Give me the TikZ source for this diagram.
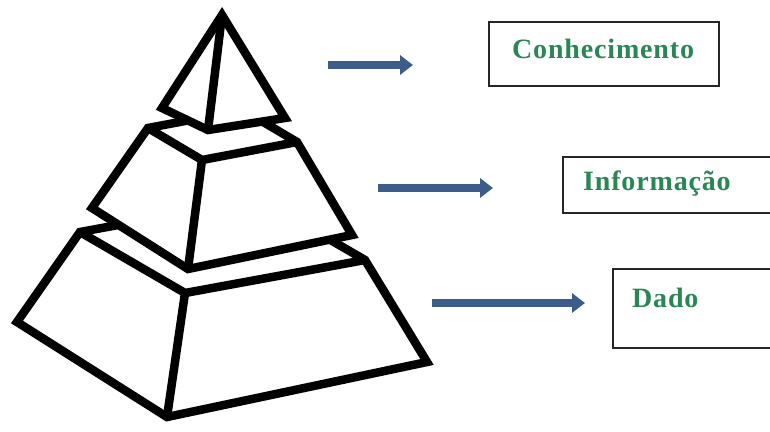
\documentclass[tikz,border=0pt]{standalone}
\usepackage{fontspec}
\setmainfont{Liberation Serif}
\newfontfamily\lblfont{Liberation Serif}[LetterSpace=3]
\usetikzlibrary{arrows.meta}
\definecolor{arrowblue}{RGB}{60,92,138}
\definecolor{labelgreen}{RGB}{40,135,85}
\begin{document}
\begin{tikzpicture}[x=1pt,y=-1pt,
  face/.style={draw=black,fill=white,line width=8.5pt,line join=miter,miter limit=4},
  edgeline/.style={draw=black,line width=8.5pt,line join=miter},
  levelbox/.style={draw=black!85,line width=1.8pt,fill=white,anchor=north west,inner sep=0pt},
  lvltext/.style={text=labelgreen,font=\lblfont\fontsize{28}{30}\selectfont\bfseries,anchor=base west,inner sep=0pt},
  bluearrow/.style={draw=arrowblue,line width=8.5pt,-{Triangle[length=13pt,width=19pt]}}]
\useasboundingbox (0,0) rectangle (770,431);
\clip (0,0) rectangle (770,431);

% ---------- bottom layer ----------
\coordinate (btl) at (80,232);
\coordinate (bbk) at (260,199);
\coordinate (btr) at (365,260);
\coordinate (bbr) at (427,362);
\coordinate (bbf) at (167,417);
\coordinate (bbl) at (17,322);
\coordinate (btf) at (185,293);
\path[face] (btl) -- (bbk) -- (btr) -- (bbr) -- (bbf) -- (bbl) -- cycle;
\draw[edgeline] (btl) -- (btf) -- (btr);
\draw[edgeline] (btf) -- (bbf);

% ---------- middle layer ----------
\coordinate (mtl) at (148,128);
\coordinate (mbk) at (243,110);
\coordinate (mtr) at (297,142);
\coordinate (mbr) at (352,235);
\coordinate (mbf) at (188,269);
\coordinate (mbl) at (92,208);
\coordinate (mtf) at (202,160);
\path[face] (mtl) -- (mbk) -- (mtr) -- (mbr) -- (mbf) -- (mbl) -- cycle;
\draw[edgeline] (mtl) -- (mtf) -- (mtr);
\draw[edgeline] (mtf) -- (mbf);

% ---------- top pyramid ----------
\coordinate (apex) at (222,15);
\coordinate (tl) at (162,108);
\coordinate (tf) at (208,130);
\coordinate (tr) at (285,118);
\path[face] (apex) -- (tl) -- (tf) -- (tr) -- cycle;
\draw[edgeline] (apex) -- (tf);

% ---------- arrows ----------
\coordinate (a1s) at (328,65);  \coordinate (a1e) at (413,65);
\coordinate (a2s) at (378,188); \coordinate (a2e) at (493,188);
\coordinate (a3s) at (432,303); \coordinate (a3e) at (585,303);
\draw[bluearrow] (a1s) -- (a1e);
\draw[bluearrow] (a2s) -- (a2e);
\draw[bluearrow] (a3s) -- (a3e);

% ---------- boxes ----------
\node[levelbox,minimum width=230pt,minimum height=64pt] (box1) at (488,21) {};
\node[levelbox,minimum width=220pt,minimum height=56pt] (box2) at (562,156) {};
\node[levelbox,minimum width=170pt,minimum height=79pt] (box3) at (612,268) {};
\node[lvltext] (txt1) at (512,58) {Conhecimento};
\node[lvltext] (txt2) at (583,190) {Informação};
\node[lvltext] (txt3) at (632,307) {Dado};
\end{tikzpicture}
\end{document}
